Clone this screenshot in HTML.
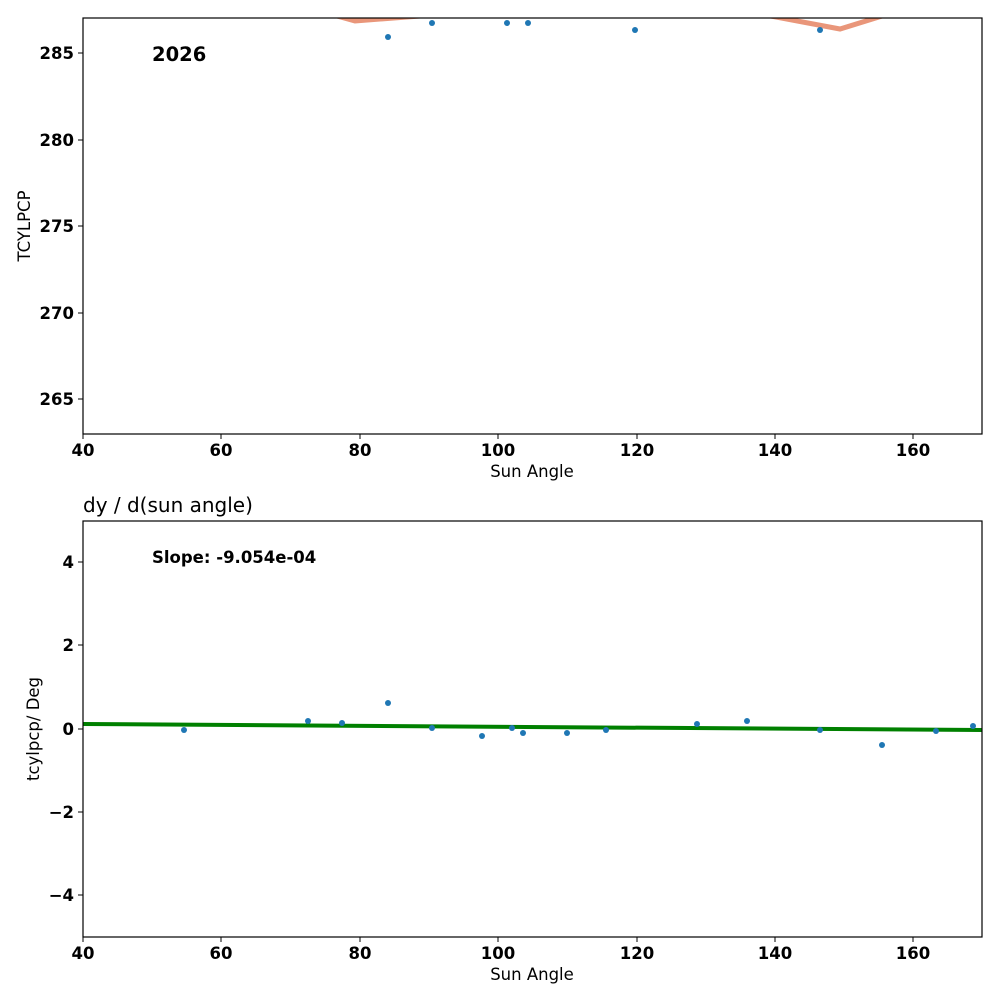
<!DOCTYPE html>
<html><head><meta charset="utf-8"><style>body{margin:0;background:#fff}svg{display:block;font-family:"DejaVu Sans","Liberation Sans",sans-serif}</style></head><body>
<svg width="1000" height="1000" xmlns="http://www.w3.org/2000/svg">
<rect width="1000" height="1000" fill="#fff"/>
<defs><clipPath id="c1"><rect x="83" y="18" width="899" height="416"/></clipPath><clipPath id="c2"><rect x="83" y="521" width="899" height="416"/></clipPath></defs>
<g clip-path="url(#c1)">
<polyline points="330,14 355,21 420,16" fill="none" stroke="#e9967a" stroke-width="5"/>
<polyline points="760,14 840,29 895,12" fill="none" stroke="#e9967a" stroke-width="5"/>
<g fill="#1f77b4"><circle cx="388" cy="37" r="3"/><circle cx="432" cy="23" r="3"/><circle cx="507" cy="23" r="3"/><circle cx="528" cy="23" r="3"/><circle cx="635" cy="30" r="3"/><circle cx="820" cy="30" r="3"/></g>
</g>
<rect x="83" y="18" width="899" height="416" fill="none" stroke="#000" stroke-width="1.2"/>
<text x="152" y="61" font-size="19.5" font-weight="bold">2026</text>
<g font-size="16.5" font-weight="bold" text-anchor="end">
<line x1="78" y1="53" x2="83" y2="53" stroke="#000"/><text x="74" y="59">285</text>
<line x1="78" y1="140" x2="83" y2="140" stroke="#000"/><text x="74" y="146">280</text>
<line x1="78" y1="226" x2="83" y2="226" stroke="#000"/><text x="74" y="232">275</text>
<line x1="78" y1="313" x2="83" y2="313" stroke="#000"/><text x="74" y="319">270</text>
<line x1="78" y1="399" x2="83" y2="399" stroke="#000"/><text x="74" y="405">265</text>
</g>
<g font-size="16.5" font-weight="bold" text-anchor="middle">
<line x1="83" y1="434" x2="83" y2="439" stroke="#000"/><text x="83" y="456">40</text>
<line x1="221" y1="434" x2="221" y2="439" stroke="#000"/><text x="221" y="456">60</text>
<line x1="360" y1="434" x2="360" y2="439" stroke="#000"/><text x="360" y="456">80</text>
<line x1="498" y1="434" x2="498" y2="439" stroke="#000"/><text x="498" y="456">100</text>
<line x1="637" y1="434" x2="637" y2="439" stroke="#000"/><text x="637" y="456">120</text>
<line x1="775" y1="434" x2="775" y2="439" stroke="#000"/><text x="775" y="456">140</text>
<line x1="913" y1="434" x2="913" y2="439" stroke="#000"/><text x="913" y="456">160</text>
</g>
<text x="532" y="477" font-size="16.5" text-anchor="middle">Sun Angle</text>
<text transform="translate(30,226) rotate(-90)" font-size="16.5" text-anchor="middle">TCYLPCP</text>
<text x="83" y="512" font-size="20">dy / d(sun angle)</text>
<g clip-path="url(#c2)">
<line x1="83" y1="724" x2="982" y2="730" stroke="#008000" stroke-width="4"/>
<g fill="#1f77b4"><circle cx="184" cy="730" r="3"/><circle cx="308" cy="721" r="3"/><circle cx="342" cy="723" r="3"/><circle cx="388" cy="703" r="3"/><circle cx="432" cy="728" r="3"/><circle cx="482" cy="736" r="3"/><circle cx="512" cy="728" r="3"/><circle cx="523" cy="733" r="3"/><circle cx="567" cy="733" r="3"/><circle cx="606" cy="730" r="3"/><circle cx="697" cy="724" r="3"/><circle cx="747" cy="721" r="3"/><circle cx="820" cy="730" r="3"/><circle cx="882" cy="745" r="3"/><circle cx="936" cy="731" r="3"/><circle cx="973" cy="726" r="3"/></g>
</g>
<rect x="83" y="521" width="899" height="416" fill="none" stroke="#000" stroke-width="1.2"/>
<text x="152" y="563" font-size="16.5" font-weight="bold">Slope: -9.054e-04</text>
<g font-size="16.5" font-weight="bold" text-anchor="end">
<line x1="78" y1="562" x2="83" y2="562" stroke="#000"/><text x="74" y="568">4</text>
<line x1="78" y1="645" x2="83" y2="645" stroke="#000"/><text x="74" y="651">2</text>
<line x1="78" y1="729" x2="83" y2="729" stroke="#000"/><text x="74" y="735">0</text>
<line x1="78" y1="812" x2="83" y2="812" stroke="#000"/><text x="74" y="818">−2</text>
<line x1="78" y1="895" x2="83" y2="895" stroke="#000"/><text x="74" y="901">−4</text>
</g>
<g font-size="16.5" font-weight="bold" text-anchor="middle">
<line x1="83" y1="937" x2="83" y2="942" stroke="#000"/><text x="83" y="959">40</text>
<line x1="221" y1="937" x2="221" y2="942" stroke="#000"/><text x="221" y="959">60</text>
<line x1="360" y1="937" x2="360" y2="942" stroke="#000"/><text x="360" y="959">80</text>
<line x1="498" y1="937" x2="498" y2="942" stroke="#000"/><text x="498" y="959">100</text>
<line x1="637" y1="937" x2="637" y2="942" stroke="#000"/><text x="637" y="959">120</text>
<line x1="775" y1="937" x2="775" y2="942" stroke="#000"/><text x="775" y="959">140</text>
<line x1="913" y1="937" x2="913" y2="942" stroke="#000"/><text x="913" y="959">160</text>
</g>
<text x="532" y="980" font-size="16.5" text-anchor="middle">Sun Angle</text>
<text transform="translate(39,729) rotate(-90)" font-size="16.5" text-anchor="middle">tcylpcp/ Deg</text>
</svg>
</body></html>
